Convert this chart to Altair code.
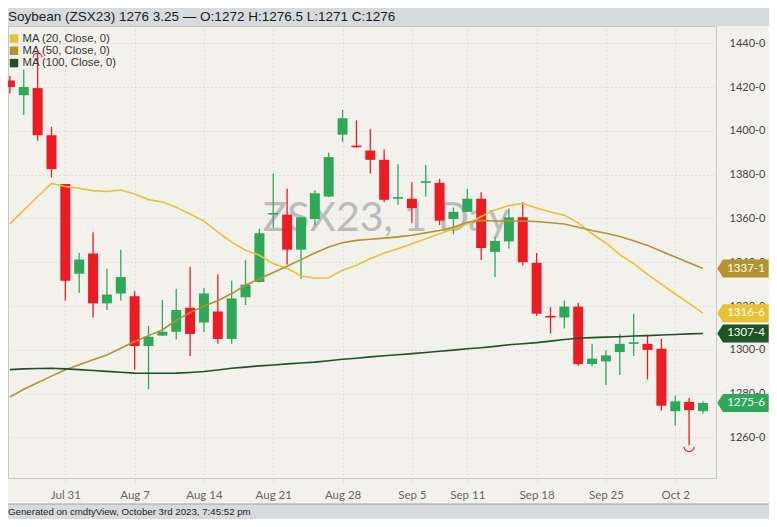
import json
import altair as alt
import pandas as pd

# trading days shown (Labor Day closed)
days = [d for d in pd.bdate_range("2023-07-25", "2023-10-04") if d != pd.Timestamp("2023-09-04")]

opens = [1423, 1416.25, 1419.5, 1398, 1375.75, 1334.75, 1344, 1321.25, 1325.75, 1324.5,
         1301.75, 1306.5, 1308.25, 1319.25, 1312.5, 1317.5, 1305, 1324, 1331, 1361.75,
         1361.75, 1345.75, 1359.75, 1370, 1398.25, 1393.25, 1391, 1386.75, 1369, 1369,
         1376.25, 1376.25, 1359.75, 1363, 1369, 1344.75, 1349.5, 1360.5, 1339.75, 1315.5,
         1314.75, 1319.75, 1293.5, 1294.75, 1299, 1302.75, 1302.75, 1300.5, 1272, 1276.25,
         1272]
highs = [1425, 1428, 1435.5, 1401.75, 1375.75, 1344.25, 1353.75, 1337, 1345.75, 1326.75,
         1311, 1322.75, 1327.75, 1338, 1328.25, 1334.5, 1331.5, 1341, 1355.25, 1380.5,
         1373.5, 1360.5, 1372.75, 1390, 1409.5, 1404.75, 1400.75, 1391.5, 1384.75, 1376.5,
         1384.5, 1378, 1365, 1373.5, 1372, 1351.5, 1364.5, 1367.5, 1344.25, 1319.5,
         1322.5, 1321.5, 1302.75, 1299.75, 1307.25, 1316.5, 1306.5, 1305, 1279, 1278,
         1276.5]
lows = [1417, 1407.25, 1395.5, 1378.75, 1322.5, 1326, 1314.75, 1318.25, 1322.5, 1291,
        1282, 1306.5, 1304.75, 1297.25, 1308, 1302.75, 1302.75, 1320.5, 1330.75, 1355.75,
        1339, 1332.5, 1356.75, 1369.75, 1395, 1392.25, 1380.5, 1367.5, 1366.25, 1358,
        1370, 1357, 1352.75, 1363, 1341, 1333.25, 1346.25, 1338.5, 1315.5, 1307.5,
        1309.75, 1292.75, 1292.5, 1284, 1288.5, 1297.25, 1286.5, 1272.25, 1265.5, 1256.5,
        1271]
closes = [1420, 1420, 1398, 1382.5, 1331.5, 1341.25, 1321.25, 1325.25, 1333.25, 1301.75,
          1306, 1308.25, 1318.25, 1307.25, 1325.75, 1305, 1323.5, 1329.75, 1353.25, 1362.5,
          1345.75, 1360.5, 1371.5, 1388, 1405.75, 1392.5, 1386.75, 1368.5, 1369.75, 1364.75,
          1377, 1359, 1363, 1369, 1346.5, 1349.75, 1360.5, 1340, 1316.5, 1314.75,
          1319.75, 1293.5, 1296, 1297.5, 1302.75, 1303.5, 1300, 1274.5, 1276.5, 1272.5,
          1275.75]

ma20 = [1357.5, 1363.8, 1369.9, 1376.0, 1374.6, 1373.8, 1372.7, 1372.3, 1373.0, 1371.2,
        1368.6, 1367.5, 1365.1, 1362.0, 1358.8, 1353.8, 1349.2, 1345.5, 1343.2, 1339.4,
        1337.1, 1333.8, 1332.7, 1332.9, 1336.4, 1338.6, 1341.6, 1344.2, 1346.2, 1348.5,
        1350.7, 1353.0, 1355.3, 1357.5, 1360.9, 1363.9, 1365.9, 1366.8, 1364.8, 1362.9,
        1361.4, 1358.0, 1353.0, 1348.8, 1343.5, 1339.4, 1334.5, 1330.0, 1325.5, 1321.2,
        1316.75]
ma50 = [1278.5, 1282.0, 1285.0, 1288.0, 1290.9, 1293.2, 1295.5, 1297.7, 1300.7, 1303.8,
        1306.5, 1309.1, 1313.5, 1317.0, 1320.0, 1322.4, 1325.7, 1329.5, 1332.5, 1335.3,
        1338.2, 1341.2, 1344.2, 1347.0, 1348.9, 1350.0, 1350.5, 1351.0, 1351.6, 1352.3,
        1353.4, 1354.5, 1356.0, 1358.3, 1359.1, 1358.8, 1358.8, 1358.8, 1358.6, 1358.0,
        1357.5, 1356.0, 1354.5, 1353.2, 1351.8, 1349.8, 1347.7, 1345.0, 1342.4, 1339.8,
        1337.125]
ma100 = [1291.0, 1291.3, 1291.5, 1291.6, 1291.3, 1291.0, 1290.6, 1290.2, 1289.8, 1289.4,
         1289.3, 1289.3, 1289.4, 1289.7, 1290.1, 1290.8, 1291.6, 1292.1, 1292.7, 1293.1,
         1293.6, 1294.0, 1294.4, 1295.0, 1295.7, 1296.2, 1296.8, 1297.3, 1297.8, 1298.3,
         1298.8, 1299.4, 1299.9, 1300.5, 1301.0, 1301.6, 1302.3, 1302.8, 1303.3, 1304.0,
         1304.7, 1305.3, 1305.6, 1305.8, 1306.0, 1306.3, 1306.5, 1306.8, 1307.0, 1307.3,
         1307.5]

ma_names = ["MA (20, Close, 0)", "MA (50, Close, 0)", "MA (100, Close, 0)"]
ma_colors = ["#e9c233", "#b4932c", "#1d5424"]

tick_days = ["2023-07-31", "2023-08-07", "2023-08-14", "2023-08-21", "2023-08-28",
             "2023-09-05", "2023-09-11", "2023-09-18", "2023-09-25", "2023-10-02"]
y_ticks = [1260, 1280, 1300, 1320, 1340, 1360, 1380, 1400, 1420, 1440]

title_text = "Soybean (ZSX23) 1276 3.25 \u2014 O:1272 H:1276.5 L:1271 C:1276"
footer_text = "Generated on cmdtyView, October 3rd 2023, 7:45:52 pm"
watermark = "ZSX23, 1 Day"

UP = "#2fa85a"
DOWN = "#ec1c24"
BEIGE = "#f3f1ec"
GREY = "#d8dbde"

W, H = 708, 452
PAD = {"left": 0, "top": 18, "right": 53, "bottom": 41}
FULL_W = W + PAD["right"]
BOTTOM = H + PAD["bottom"]

# tables
candles = pd.DataFrame({"i": range(len(days)), "open": opens, "high": highs,
                        "low": lows, "close": closes})
candles["dir"] = ["up" if c >= o else "down" for o, c in zip(opens, closes)]

ma_rows = []
for name, vals in zip(ma_names, [ma20, ma50, ma100]):
    for i, v in enumerate(vals):
        ma_rows.append({"i": i, "value": v, "ma": name})
ma_df = pd.DataFrame(ma_rows)

tags_ma = pd.DataFrame({"series": ma_names, "value": [ma20[-1], ma50[-1], ma100[-1]]})
tags_all = pd.DataFrame({"value": [ma20[-1], ma50[-1], ma100[-1], closes[-1]]})

hi_row = candles.loc[[candles["high"].idxmax()]]
lo_row = candles.loc[[candles["low"].idxmin()]]

day_str = [d.strftime("%Y-%m-%d") for d in days]
tick_idx = [day_str.index(t) for t in tick_days]
tick_labels = [pd.Timestamp(t).strftime("%b ") + str(pd.Timestamp(t).day) for t in tick_days]

# scales / axes
x_scale = alt.Scale(domain=[0.224, 50.58], nice=False, zero=False)
y_scale = alt.Scale(domain=[1241.5, 1447.86], nice=False, zero=False)
ma_scale = alt.Scale(domain=ma_names, range=ma_colors)

x_axis = alt.Axis(values=tick_idx, title=None,
                  labelExpr=f"{json.dumps(tick_labels)}[indexof({json.dumps(tick_idx)}, datum.value)]",
                  grid=True, gridColor="#cfcfcf", gridDash=[1, 3], domain=False,
                  tickColor="#c4c4c4", tickDash=[1, 2], tickSize=5,
                  labelFont="Lato", labelFontSize=11.5, labelColor="#666", labelPadding=6)
y_axis = alt.Axis(values=y_ticks, orient="right", title=None,
                  labelExpr="floor(datum.value) + '-' + round((datum.value - floor(datum.value)) * 8)",
                  grid=True, gridColor="#cfcfcf", gridDash=[1, 3], domain=False, ticks=False,
                  labelFont="Lato", labelFontSize=11, labelColor="#444", labelPadding=13)

X = alt.X("i:Q", scale=x_scale, axis=x_axis)
dir_color = alt.Color("dir:N", scale=alt.Scale(domain=["up", "down"], range=[UP, DOWN]), legend=None)

one = alt.Data(values=[{}])

top_strip = alt.Chart(one).mark_rect(color=GREY).encode(
    x=alt.value(0), x2=alt.value(FULL_W), y=alt.value(-PAD["top"]), y2=alt.value(0))
foot_strip = alt.Chart(one).mark_rect(color=GREY).encode(
    x=alt.value(0), x2=alt.value(FULL_W), y=alt.value(H + 26), y2=alt.value(BOTTOM))
foot_line = alt.Chart(one).mark_rule(color="#a3a3a3", strokeWidth=1).encode(
    x=alt.value(0), x2=alt.value(FULL_W), y=alt.value(H + 26))

mark_wm = alt.Chart(one).mark_text(font="Lato", fontSize=41, color="#bcbcbc",
                                  align="center", baseline="middle").encode(
    x=alt.value(378), y=alt.value(193), text=alt.value(watermark))

wicks = alt.Chart(candles).mark_rule(strokeWidth=1.3, clip=True).encode(
    x=X, y=alt.Y("low:Q", scale=y_scale, axis=y_axis), y2="high:Q", color=dir_color)
bodies = alt.Chart(candles).mark_bar(size=10, clip=True).encode(
    x=X, y=alt.Y("open:Q", scale=y_scale, axis=y_axis), y2="close:Q", color=dir_color)

ma_lines = alt.Chart(ma_df).mark_line(strokeWidth=1.6, clip=True).encode(
    x=X, y=alt.Y("value:Q", scale=y_scale, axis=y_axis),
    stroke=alt.Stroke("ma:N", scale=ma_scale, legend=None),
    order="i:Q")

hi_mark = alt.Chart(hi_row).mark_point(shape="M -1 0 A 1 1 0 0 1 1 0", size=81, filled=False,
                                      color=DOWN, strokeWidth=1.2, opacity=1, yOffset=4.5).encode(
    x=X, y=alt.Y("high:Q", scale=y_scale, axis=y_axis))
lo_mark = alt.Chart(lo_row).mark_point(shape="M -1 0 A 1 1 0 0 0 1 0", size=100, filled=False,
                                      color=DOWN, strokeWidth=1.2, opacity=1, yOffset=1.5).encode(
    x=X, y=alt.Y("low:Q", scale=y_scale, axis=y_axis))

# price tags on the right axis
TAG = "M -1 0 L -0.78 -0.35 L 1 -0.35 L 1 0.35 L -0.78 0.35 Z"
ma_tags = alt.Chart(tags_ma).mark_point(shape=TAG, size=2642, filled=True, opacity=1,
                                       strokeWidth=0).encode(
    x=alt.value(735), y=alt.Y("value:Q", scale=y_scale, axis=y_axis),
    fill=alt.Fill("series:N", scale=ma_scale, legend=None))
last_tag = alt.Chart(candles.tail(1)).mark_point(shape=TAG, size=2642, filled=True, opacity=1,
                                                strokeWidth=0, color=UP).encode(
    x=alt.value(735), y=alt.Y("close:Q", scale=y_scale, axis=y_axis))
tag_text = alt.Chart(tags_all).transform_calculate(
    label="floor(datum.value) + '-' + round((datum.value - floor(datum.value)) * 8)"
).mark_text(font="Lato", fontSize=11.5, color="white", align="center", baseline="middle").encode(
    x=alt.value(738), y=alt.Y("value:Q", scale=y_scale, axis=y_axis), text="label:N")

# legend, top left
legend_layers = []
for k, (name, col) in enumerate(zip(ma_names, ma_colors)):
    row_y = 12.5 + 12.3 * k
    legend_layers.append(alt.Chart(one).mark_square(size=72, color=col, opacity=1).encode(
        x=alt.value(6), y=alt.value(row_y)))
    legend_layers.append(alt.Chart(one).mark_text(
        font="Liberation Sans", fontSize=11.3, color="#333", align="left", baseline="middle").encode(
        x=alt.value(14.5), y=alt.value(row_y), text=alt.value(name)))

title = alt.Chart(one).mark_text(font="Liberation Sans", fontSize=13.5, color="#1a1a1a",
                                 align="left", baseline="middle").encode(
    x=alt.value(0), y=alt.value(-9), text=alt.value(title_text))
footer = alt.Chart(one).mark_text(font="Liberation Sans", fontSize=9.7, color="#222",
                                  align="left", baseline="middle").encode(
    x=alt.value(0), y=alt.value(H + 34), text=alt.value(footer_text))

chart = alt.layer(
    top_strip, foot_strip, foot_line, mark_wm, wicks, bodies, ma_lines,
    hi_mark, lo_mark, ma_tags, last_tag, tag_text, *legend_layers, title, footer
).properties(
    width=W, height=H,
    autosize=alt.AutoSizeParams(type="none"),
    padding=PAD,
    background=BEIGE,
).configure_view(stroke="#c9c9c9", strokeWidth=1)

chart.save("out.html", embed_options={"renderer": "svg", "actions": False})
